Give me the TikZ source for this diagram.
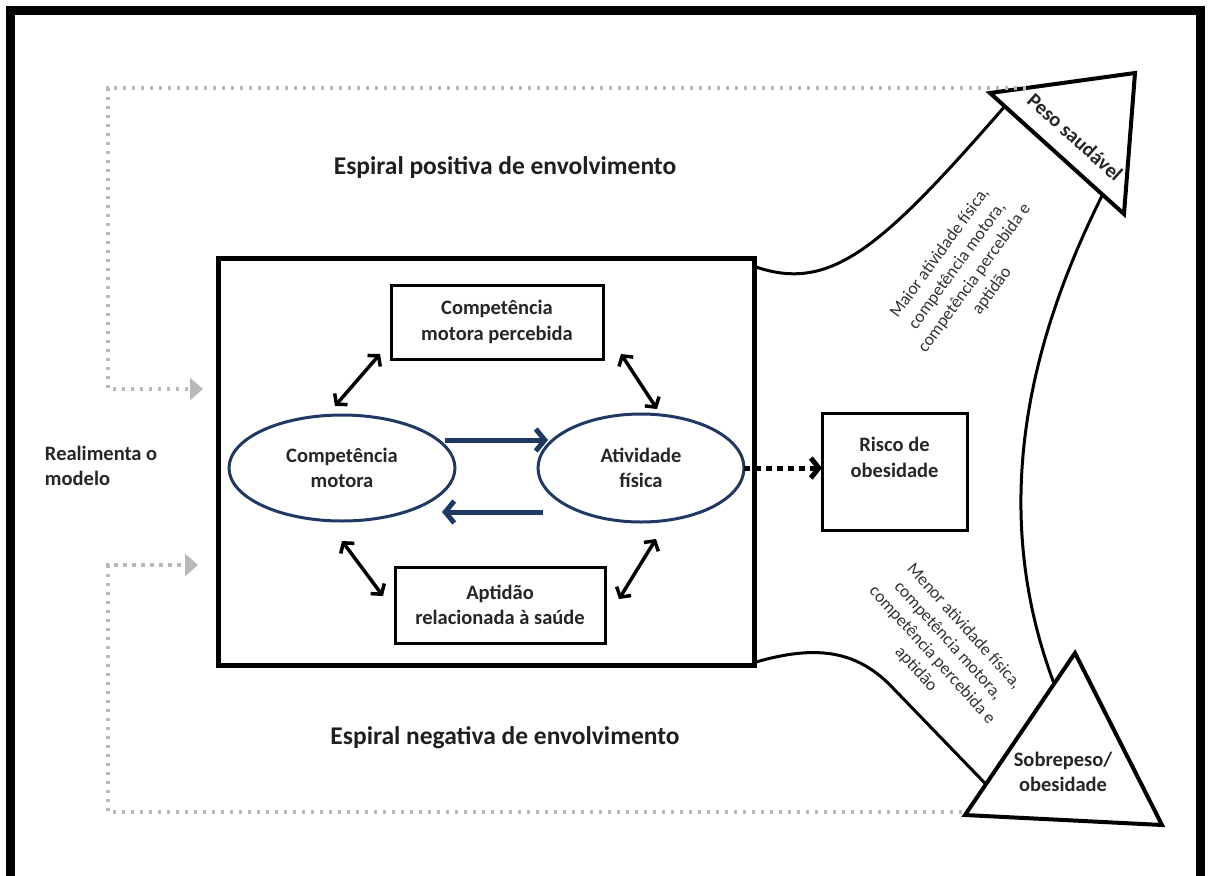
\documentclass[tikz,border=0pt]{standalone}
\usepackage{fontspec}
\setmainfont{Carlito}
\usetikzlibrary{arrows.meta,calc,shapes.geometric}
\definecolor{navy}{HTML}{1F3864}
\begin{document}
\begin{tikzpicture}[x=1pt,y=1pt,
  every node/.style={inner sep=0pt, outer sep=0pt},
  lbl/.style={font=\bfseries\fontsize{20.5}{25.5}\selectfont, align=center, text=black!85},
  bx/.style={draw, line width=3pt, lbl},
  ell/.style={draw=navy, line width=3pt, ellipse, lbl},
  dbl/.style={line width=3.5pt, {Straight Barb[length=7pt,width=17pt]}-{Straight Barb[length=7pt,width=17pt]}},
  nav/.style={draw=navy, line width=5pt, -{Straight Barb[length=9pt,width=22pt]}},
  fb/.style={draw=gray!55, line width=3.5pt, dash pattern=on 3.5pt off 5.5pt, -{Triangle[length=13pt,width=22pt]}},
  band/.style={line width=3pt},
  tri/.style={line width=4pt, line join=miter},
  side/.style={font=\fontsize{17.5}{21.5}\selectfont, align=center, text=black!80},
  ttl/.style={font=\bfseries\fontsize{25.5}{30}\selectfont, text=black!88}
]
\useasboundingbox (0,0) rectangle (1211,-876);
\draw[line width=9pt] (10.5,-890) -- (10.5,-10) -- (1200.5,-10) -- (1200.5,-890);

% main box
\node[draw, line width=5pt, minimum width=536, minimum height=407] (big) at (486,-461.5) {};
\node[bx, minimum width=212, minimum height=74] (cmp) at (497,-322) {Competência\\motora percebida};
\node[bx, minimum width=210, minimum height=76] (apt) at (500,-605) {Aptidão\\relacionada à saúde};
\node[ell, minimum width=226, minimum height=106] (cm) at (342,-468) {Competência\\motora};
\node[ell, minimum width=206, minimum height=108] (af) at (641,-468) {Atividade\\física};
\node[draw, line width=3pt, minimum width=145, minimum height=117,
      label={[lbl, yshift=14]center:Risco de\\obesidade}] (risk) at (894.5,-471.5) {};

% arrows inside
\coordinate (n1s) at (445,-440); \coordinate (n1e) at (548,-440);
\coordinate (n2s) at (543,-512); \coordinate (n2e) at (442,-512);
\draw[nav] (n1s) -- (n1e);
\draw[nav] (n2s) -- (n2e);
\coordinate (tl1) at (335,-406); \coordinate (tl2) at (380,-354);
\coordinate (tr1) at (621,-354); \coordinate (tr2) at (657,-409);
\coordinate (bl1) at (342,-541); \coordinate (bl2) at (383,-596);
\coordinate (br1) at (656,-539); \coordinate (br2) at (619,-599);
\draw[dbl] (tl1) -- (tl2);
\draw[dbl] (tr1) -- (tr2);
\draw[dbl] (bl1) -- (bl2);
\draw[dbl] (br1) -- (br2);
\draw[line width=5pt, dash pattern=on 6pt off 5pt, -{Straight Barb[length=8pt,width=20pt]}]
  (af.east) -- (af.east -| risk.west);

% triangles
\coordinate (A) at (990,-93); \coordinate (B) at (1135,-73); \coordinate (C) at (1124,-214);
\coordinate (D) at (965,-815); \coordinate (E) at (1075,-653); \coordinate (F) at (1162,-825);
\draw[tri] (A) -- (B) -- (C) -- cycle;
\draw[tri] (D) -- (E) -- (F) -- cycle;

% bands
\draw[band] ($(big.north east)+(2,-9)$) .. controls (830,-292) and (880,-250) .. ($(A)!0.11!(C)$);
\draw[band] ($(A)!0.84!(C)$) .. controls (1035,-330) and (985,-500) .. ($(D)!0.81!(E)$);
\draw[band] ($(big.south east)+(2,3)$) .. controls (815,-645) and (855,-650) .. (890,-685) -- ($(D)!0.19!(E)$);

% feedback
\coordinate (fb1) at ($(A)!0.25!(B)$);
\coordinate (fb1e) at (203,-389);
\coordinate (fb2) at (962,-812);
\coordinate (fb2e) at (198,-565);
\draw[fb] (fb1) -- (108,-88) -- (108,-389) -- (fb1e);
\draw[fb] (fb2) -- (108,-812) -- (108,-565) -- (fb2e);

% texts
\node[ttl] (pos) at (505,-168) {Espiral positiva de envolvimento};
\node[ttl] (neg) at (505,-738) {Espiral negativa de envolvimento};
\node[lbl, align=left, anchor=west] (real) at (45,-466) {Realimenta o\\modelo};
\node[side, rotate=54] (maior) at (966,-272) {Maior atividade física,\\competência motora,\\competência percebida e\\aptidão};
\node[side, rotate=-48] (menor) at (940,-648) {Menor atividade física,\\competência motora,\\competência percebida e\\aptidão};
\node[lbl, rotate=-42] (peso) at (1075,-137) {Peso saudável};
\node[lbl] (sobre) at (1063,-772) {Sobrepeso/\\obesidade};
\end{tikzpicture}
\end{document}
